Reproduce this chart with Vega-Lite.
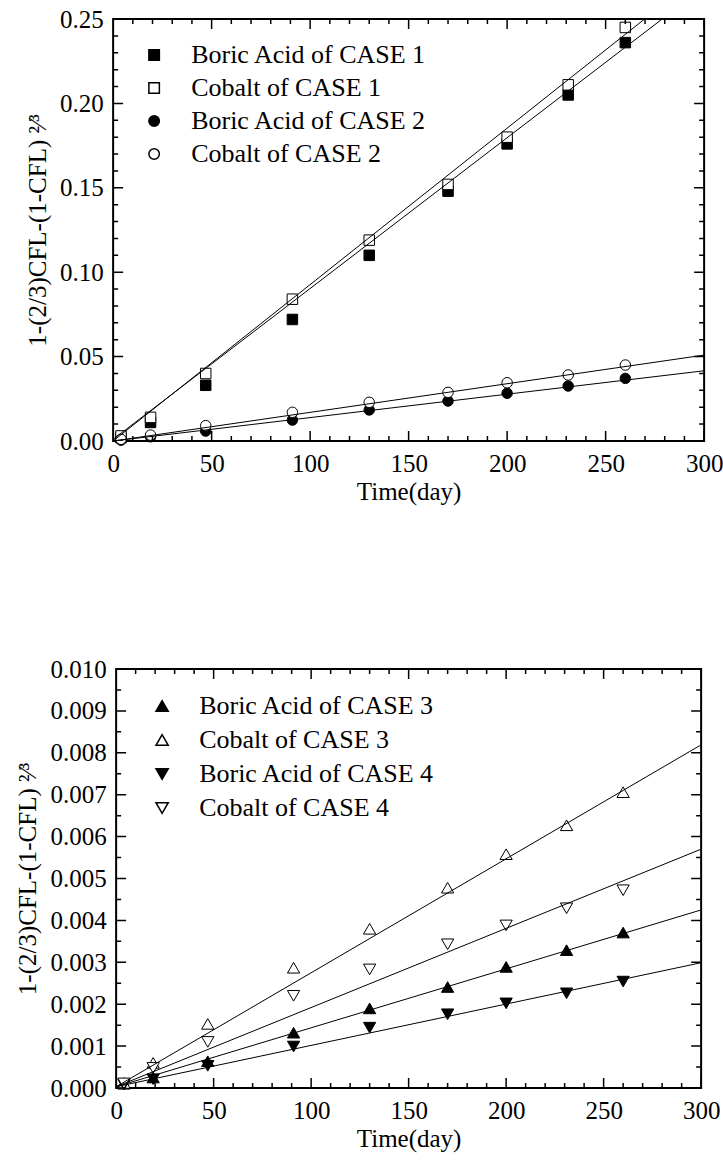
{
  "$schema": "https://vega.github.io/schema/vega-lite/v6.json",
  "padding": {"left": 14, "top": 6, "right": 5, "bottom": 5},
  "config": {
    "font": "Liberation Serif",
    "view": {"stroke": "black", "strokeWidth": 2},
    "axis": {
      "grid": false,
      "ticks": false,
      "domain": false,
      "labelFont": "Liberation Serif",
      "titleFont": "Liberation Serif",
      "labelFontSize": 25,
      "titleFontSize": 25,
      "titleFontWeight": "normal",
      "labelColor": "black",
      "titleColor": "black",
      "labelOverlap": false,
      "labelFlush": false,
      "labelBound": false
    },
    "legend": {"labelFont": "Liberation Serif", "labelColor": "black"}
  },
  "datasets": {
    "xticks": [
      {"t": 0, "kind": "major"}, {"t": 10, "kind": "minor"}, {"t": 20, "kind": "minor"}, {"t": 30, "kind": "minor"}, {"t": 40, "kind": "minor"},
      {"t": 50, "kind": "major"}, {"t": 60, "kind": "minor"}, {"t": 70, "kind": "minor"}, {"t": 80, "kind": "minor"}, {"t": 90, "kind": "minor"},
      {"t": 100, "kind": "major"}, {"t": 110, "kind": "minor"}, {"t": 120, "kind": "minor"}, {"t": 130, "kind": "minor"}, {"t": 140, "kind": "minor"},
      {"t": 150, "kind": "major"}, {"t": 160, "kind": "minor"}, {"t": 170, "kind": "minor"}, {"t": 180, "kind": "minor"}, {"t": 190, "kind": "minor"},
      {"t": 200, "kind": "major"}, {"t": 210, "kind": "minor"}, {"t": 220, "kind": "minor"}, {"t": 230, "kind": "minor"}, {"t": 240, "kind": "minor"},
      {"t": 250, "kind": "major"}, {"t": 260, "kind": "minor"}, {"t": 270, "kind": "minor"}, {"t": 280, "kind": "minor"}, {"t": 290, "kind": "minor"},
      {"t": 300, "kind": "major"}
    ],
    "yticksTop": [
      {"t": 0, "kind": "major"}, {"t": 0.01, "kind": "minor"}, {"t": 0.02, "kind": "minor"}, {"t": 0.03, "kind": "minor"}, {"t": 0.04, "kind": "minor"},
      {"t": 0.05, "kind": "major"}, {"t": 0.06, "kind": "minor"}, {"t": 0.07, "kind": "minor"}, {"t": 0.08, "kind": "minor"}, {"t": 0.09, "kind": "minor"},
      {"t": 0.1, "kind": "major"}, {"t": 0.11, "kind": "minor"}, {"t": 0.12, "kind": "minor"}, {"t": 0.13, "kind": "minor"}, {"t": 0.14, "kind": "minor"},
      {"t": 0.15, "kind": "major"}, {"t": 0.16, "kind": "minor"}, {"t": 0.17, "kind": "minor"}, {"t": 0.18, "kind": "minor"}, {"t": 0.19, "kind": "minor"},
      {"t": 0.2, "kind": "major"}, {"t": 0.21, "kind": "minor"}, {"t": 0.22, "kind": "minor"}, {"t": 0.23, "kind": "minor"}, {"t": 0.24, "kind": "minor"},
      {"t": 0.25, "kind": "major"}
    ],
    "yticksBottom": [
      {"t": 0, "kind": "major"}, {"t": 0.0005, "kind": "minor"}, {"t": 0.001, "kind": "major"}, {"t": 0.0015, "kind": "minor"},
      {"t": 0.002, "kind": "major"}, {"t": 0.0025, "kind": "minor"}, {"t": 0.003, "kind": "major"}, {"t": 0.0035, "kind": "minor"},
      {"t": 0.004, "kind": "major"}, {"t": 0.0045, "kind": "minor"}, {"t": 0.005, "kind": "major"}, {"t": 0.0055, "kind": "minor"},
      {"t": 0.006, "kind": "major"}, {"t": 0.0065, "kind": "minor"}, {"t": 0.007, "kind": "major"}, {"t": 0.0075, "kind": "minor"},
      {"t": 0.008, "kind": "major"}, {"t": 0.0085, "kind": "minor"}, {"t": 0.009, "kind": "major"}, {"t": 0.0095, "kind": "minor"},
      {"t": 0.01, "kind": "major"}
    ]
  },
  "columns": 1,
  "center": true,
  "spacing": 151,
  "resolve": {"scale": {"shape": "independent", "fill": "independent"}},
  "concat": [
    {
      "width": 591,
      "height": 422,
      "layer": [
        {
          "data": {"values": [
            {"day": 4, "value": 0.002, "series": "Boric Acid of CASE 1"},
            {"day": 19, "value": 0.011, "series": "Boric Acid of CASE 1"},
            {"day": 47, "value": 0.033, "series": "Boric Acid of CASE 1"},
            {"day": 91, "value": 0.072, "series": "Boric Acid of CASE 1"},
            {"day": 130, "value": 0.110, "series": "Boric Acid of CASE 1"},
            {"day": 170, "value": 0.148, "series": "Boric Acid of CASE 1"},
            {"day": 200, "value": 0.176, "series": "Boric Acid of CASE 1"},
            {"day": 231, "value": 0.205, "series": "Boric Acid of CASE 1"},
            {"day": 260, "value": 0.236, "series": "Boric Acid of CASE 1"},
            {"day": 4, "value": 0.003, "series": "Cobalt of CASE 1"},
            {"day": 19, "value": 0.014, "series": "Cobalt of CASE 1"},
            {"day": 47, "value": 0.040, "series": "Cobalt of CASE 1"},
            {"day": 91, "value": 0.084, "series": "Cobalt of CASE 1"},
            {"day": 130, "value": 0.119, "series": "Cobalt of CASE 1"},
            {"day": 170, "value": 0.152, "series": "Cobalt of CASE 1"},
            {"day": 200, "value": 0.180, "series": "Cobalt of CASE 1"},
            {"day": 231, "value": 0.211, "series": "Cobalt of CASE 1"},
            {"day": 260, "value": 0.245, "series": "Cobalt of CASE 1"},
            {"day": 4, "value": 0.0005, "series": "Boric Acid of CASE 2"},
            {"day": 19, "value": 0.0025, "series": "Boric Acid of CASE 2"},
            {"day": 47, "value": 0.0059, "series": "Boric Acid of CASE 2"},
            {"day": 91, "value": 0.0124, "series": "Boric Acid of CASE 2"},
            {"day": 130, "value": 0.0184, "series": "Boric Acid of CASE 2"},
            {"day": 170, "value": 0.0237, "series": "Boric Acid of CASE 2"},
            {"day": 200, "value": 0.0283, "series": "Boric Acid of CASE 2"},
            {"day": 231, "value": 0.0326, "series": "Boric Acid of CASE 2"},
            {"day": 260, "value": 0.0371, "series": "Boric Acid of CASE 2"},
            {"day": 4, "value": 0.001, "series": "Cobalt of CASE 2"},
            {"day": 19, "value": 0.0035, "series": "Cobalt of CASE 2"},
            {"day": 47, "value": 0.0091, "series": "Cobalt of CASE 2"},
            {"day": 91, "value": 0.0170, "series": "Cobalt of CASE 2"},
            {"day": 130, "value": 0.0229, "series": "Cobalt of CASE 2"},
            {"day": 170, "value": 0.0288, "series": "Cobalt of CASE 2"},
            {"day": 200, "value": 0.0345, "series": "Cobalt of CASE 2"},
            {"day": 231, "value": 0.0391, "series": "Cobalt of CASE 2"},
            {"day": 260, "value": 0.0450, "series": "Cobalt of CASE 2"}
          ]},
          "mark": {"type": "point", "filled": true, "stroke": "black", "strokeWidth": 1, "size": 110, "opacity": 1},
          "encoding": {
            "x": {
              "field": "day", "type": "quantitative",
              "scale": {"domain": [0, 300], "nice": false, "zero": false},
              "axis": {"orient": "bottom", "title": "Time(day)", "values": [0,50,100,150,200,250,300], "labelPadding": 10, "titlePadding": 3}
            },
            "y": {
              "field": "value", "type": "quantitative",
              "scale": {"domain": [0, 0.25], "nice": false},
              "axis": {"orient": "left", "title": "1-(2/3)CFL-(1-CFL) ²⁄³", "format": ".2f", "values": [0,0.05,0.1,0.15,0.2,0.25], "labelPadding": 10, "titlePadding": 9}
            },
            "shape": {
              "field": "series", "type": "nominal",
              "scale": {"domain": ["Boric Acid of CASE 1", "Cobalt of CASE 1", "Boric Acid of CASE 2", "Cobalt of CASE 2"], "range": ["square", "square", "circle", "circle"]},
              "legend": {"orient": "none", "legendX": 28, "legendY": 23, "title": null, "labelFontSize": 26, "labelFont": "Liberation Serif", "symbolSize": 110, "labelOffset": 24, "rowPadding": 7, "padding": 0, "labelLimit": 400,
                "encode": {"symbols": {"update": {"stroke": {"value": "black"}, "strokeWidth": {"value": 1}}}}}
            },
            "fill": {
              "field": "series", "type": "nominal",
              "scale": {"domain": ["Boric Acid of CASE 1", "Cobalt of CASE 1", "Boric Acid of CASE 2", "Cobalt of CASE 2"], "range": ["black", "white", "black", "white"]},
              "legend": {"orient": "none", "legendX": 28, "legendY": 23, "title": null, "labelFontSize": 26, "labelFont": "Liberation Serif", "symbolSize": 110, "labelOffset": 24, "rowPadding": 7, "padding": 0, "labelLimit": 400,
                "encode": {"symbols": {"update": {"stroke": {"value": "black"}, "strokeWidth": {"value": 1}}}}}
            }
          }
        },
        {
          "data": {"values": [
            {"day": 0, "value": 0.001, "series": "Boric Acid of CASE 1"},
            {"day": 300, "value": 0.269, "series": "Boric Acid of CASE 1"},
            {"day": 0, "value": 0.0, "series": "Cobalt of CASE 1"},
            {"day": 300, "value": 0.278, "series": "Cobalt of CASE 1"},
            {"day": 0, "value": 0.0, "series": "Boric Acid of CASE 2"},
            {"day": 300, "value": 0.0416, "series": "Boric Acid of CASE 2"},
            {"day": 0, "value": 0.0, "series": "Cobalt of CASE 2"},
            {"day": 300, "value": 0.0509, "series": "Cobalt of CASE 2"}
          ]},
          "mark": {"type": "line", "color": "black", "strokeWidth": 1, "clip": true},
          "encoding": {
            "x": {"field": "day", "type": "quantitative"},
            "y": {"field": "value", "type": "quantitative"},
            "detail": {"field": "series", "type": "nominal"}
          }
        },
        {
          "data": {"name": "xticks"},
          "mark": {"type": "tick", "orient": "vertical", "color": "black", "thickness": 1.5, "clip": true, "opacity": 1},
          "encoding": {
            "x": {"field": "t", "type": "quantitative"},
            "y": {"datum": 0},
            "size": {"field": "kind", "type": "nominal", "scale": {"domain": ["major", "minor"], "range": [20, 10]}, "legend": null}
          }
        },
        {
          "data": {"name": "xticks"},
          "mark": {"type": "tick", "orient": "vertical", "color": "black", "thickness": 1.5, "clip": true, "opacity": 1},
          "encoding": {
            "x": {"field": "t", "type": "quantitative"},
            "y": {"datum": 0.25},
            "size": {"field": "kind", "type": "nominal", "scale": {"domain": ["major", "minor"], "range": [20, 10]}, "legend": null}
          }
        },
        {
          "data": {"name": "yticksTop"},
          "mark": {"type": "tick", "orient": "horizontal", "color": "black", "thickness": 1.5, "clip": true, "opacity": 1},
          "encoding": {
            "y": {"field": "t", "type": "quantitative"},
            "x": {"datum": 0},
            "size": {"field": "kind", "type": "nominal", "scale": {"domain": ["major", "minor"], "range": [20, 10]}, "legend": null}
          }
        },
        {
          "data": {"name": "yticksTop"},
          "mark": {"type": "tick", "orient": "horizontal", "color": "black", "thickness": 1.5, "clip": true, "opacity": 1},
          "encoding": {
            "y": {"field": "t", "type": "quantitative"},
            "x": {"datum": 300},
            "size": {"field": "kind", "type": "nominal", "scale": {"domain": ["major", "minor"], "range": [20, 10]}, "legend": null}
          }
        }
      ]
    },
    {
      "width": 585,
      "height": 419,
      "layer": [
        {
          "data": {"values": [
            {"day": 4, "value": 0.0001, "series": "Boric Acid of CASE 3"},
            {"day": 19, "value": 0.00025, "series": "Boric Acid of CASE 3"},
            {"day": 47, "value": 0.00064, "series": "Boric Acid of CASE 3"},
            {"day": 91, "value": 0.00132, "series": "Boric Acid of CASE 3"},
            {"day": 130, "value": 0.0019, "series": "Boric Acid of CASE 3"},
            {"day": 170, "value": 0.00241, "series": "Boric Acid of CASE 3"},
            {"day": 200, "value": 0.00289, "series": "Boric Acid of CASE 3"},
            {"day": 231, "value": 0.00329, "series": "Boric Acid of CASE 3"},
            {"day": 260, "value": 0.00371, "series": "Boric Acid of CASE 3"},
            {"day": 4, "value": 0.00012, "series": "Cobalt of CASE 3"},
            {"day": 19, "value": 0.0006, "series": "Cobalt of CASE 3"},
            {"day": 47, "value": 0.00153, "series": "Cobalt of CASE 3"},
            {"day": 91, "value": 0.00287, "series": "Cobalt of CASE 3"},
            {"day": 130, "value": 0.0038, "series": "Cobalt of CASE 3"},
            {"day": 170, "value": 0.00478, "series": "Cobalt of CASE 3"},
            {"day": 200, "value": 0.00558, "series": "Cobalt of CASE 3"},
            {"day": 231, "value": 0.00627, "series": "Cobalt of CASE 3"},
            {"day": 260, "value": 0.00706, "series": "Cobalt of CASE 3"},
            {"day": 4, "value": 0.00008, "series": "Boric Acid of CASE 4"},
            {"day": 19, "value": 0.00021, "series": "Boric Acid of CASE 4"},
            {"day": 47, "value": 0.00053, "series": "Boric Acid of CASE 4"},
            {"day": 91, "value": 0.00099, "series": "Boric Acid of CASE 4"},
            {"day": 130, "value": 0.00144, "series": "Boric Acid of CASE 4"},
            {"day": 170, "value": 0.00176, "series": "Boric Acid of CASE 4"},
            {"day": 200, "value": 0.00202, "series": "Boric Acid of CASE 4"},
            {"day": 231, "value": 0.00226, "series": "Boric Acid of CASE 4"},
            {"day": 260, "value": 0.00254, "series": "Boric Acid of CASE 4"},
            {"day": 4, "value": 0.00011, "series": "Cobalt of CASE 4"},
            {"day": 19, "value": 0.00048, "series": "Cobalt of CASE 4"},
            {"day": 47, "value": 0.0011, "series": "Cobalt of CASE 4"},
            {"day": 91, "value": 0.0022, "series": "Cobalt of CASE 4"},
            {"day": 130, "value": 0.00283, "series": "Cobalt of CASE 4"},
            {"day": 170, "value": 0.00343, "series": "Cobalt of CASE 4"},
            {"day": 200, "value": 0.00388, "series": "Cobalt of CASE 4"},
            {"day": 231, "value": 0.00429, "series": "Cobalt of CASE 4"},
            {"day": 260, "value": 0.00472, "series": "Cobalt of CASE 4"}
          ]},
          "mark": {"type": "point", "filled": true, "stroke": "black", "strokeWidth": 1, "size": 150, "opacity": 1},
          "encoding": {
            "x": {
              "field": "day", "type": "quantitative",
              "scale": {"domain": [0, 300], "nice": false, "zero": false},
              "axis": {"orient": "bottom", "title": "Time(day)", "values": [0,50,100,150,200,250,300], "labelPadding": 10, "titlePadding": 3}
            },
            "y": {
              "field": "value", "type": "quantitative",
              "scale": {"domain": [0, 0.01], "nice": false},
              "axis": {"orient": "left", "title": "1-(2/3)CFL-(1-CFL) ²⁄³", "format": ".3f", "values": [0,0.001,0.002,0.003,0.004,0.005,0.006,0.007,0.008,0.009,0.01], "labelPadding": 10, "titlePadding": 9}
            },
            "shape": {
              "field": "series", "type": "nominal",
              "scale": {"domain": ["Boric Acid of CASE 3", "Cobalt of CASE 3", "Boric Acid of CASE 4", "Cobalt of CASE 4"], "range": ["triangle-up", "triangle-up", "triangle-down", "triangle-down"]},
              "legend": {"orient": "none", "legendX": 33, "legendY": 24, "title": null, "labelFontSize": 26, "labelFont": "Liberation Serif", "symbolSize": 150, "labelOffset": 24, "rowPadding": 8, "padding": 0, "labelLimit": 400,
                "encode": {"symbols": {"update": {"stroke": {"value": "black"}, "strokeWidth": {"value": 1}}}}}
            },
            "fill": {
              "field": "series", "type": "nominal",
              "scale": {"domain": ["Boric Acid of CASE 3", "Cobalt of CASE 3", "Boric Acid of CASE 4", "Cobalt of CASE 4"], "range": ["black", "white", "black", "white"]},
              "legend": {"orient": "none", "legendX": 33, "legendY": 24, "title": null, "labelFontSize": 26, "labelFont": "Liberation Serif", "symbolSize": 150, "labelOffset": 24, "rowPadding": 8, "padding": 0, "labelLimit": 400,
                "encode": {"symbols": {"update": {"stroke": {"value": "black"}, "strokeWidth": {"value": 1}}}}}
            }
          }
        },
        {
          "data": {"values": [
            {"day": 0, "value": 0.00003, "series": "Boric Acid of CASE 3"},
            {"day": 300, "value": 0.00425, "series": "Boric Acid of CASE 3"},
            {"day": 0, "value": 0.00003, "series": "Cobalt of CASE 3"},
            {"day": 300, "value": 0.00819, "series": "Cobalt of CASE 3"},
            {"day": 0, "value": 0.00003, "series": "Boric Acid of CASE 4"},
            {"day": 300, "value": 0.00299, "series": "Boric Acid of CASE 4"},
            {"day": 0, "value": 0.00003, "series": "Cobalt of CASE 4"},
            {"day": 300, "value": 0.0057, "series": "Cobalt of CASE 4"}
          ]},
          "mark": {"type": "line", "color": "black", "strokeWidth": 1, "clip": true},
          "encoding": {
            "x": {"field": "day", "type": "quantitative"},
            "y": {"field": "value", "type": "quantitative"},
            "detail": {"field": "series", "type": "nominal"}
          }
        },
        {
          "data": {"name": "xticks"},
          "mark": {"type": "tick", "orient": "vertical", "color": "black", "thickness": 1.5, "clip": true, "opacity": 1},
          "encoding": {
            "x": {"field": "t", "type": "quantitative"},
            "y": {"datum": 0},
            "size": {"field": "kind", "type": "nominal", "scale": {"domain": ["major", "minor"], "range": [20, 10]}, "legend": null}
          }
        },
        {
          "data": {"name": "xticks"},
          "mark": {"type": "tick", "orient": "vertical", "color": "black", "thickness": 1.5, "clip": true, "opacity": 1},
          "encoding": {
            "x": {"field": "t", "type": "quantitative"},
            "y": {"datum": 0.01},
            "size": {"field": "kind", "type": "nominal", "scale": {"domain": ["major", "minor"], "range": [20, 10]}, "legend": null}
          }
        },
        {
          "data": {"name": "yticksBottom"},
          "mark": {"type": "tick", "orient": "horizontal", "color": "black", "thickness": 1.5, "clip": true, "opacity": 1},
          "encoding": {
            "y": {"field": "t", "type": "quantitative"},
            "x": {"datum": 0},
            "size": {"field": "kind", "type": "nominal", "scale": {"domain": ["major", "minor"], "range": [20, 10]}, "legend": null}
          }
        },
        {
          "data": {"name": "yticksBottom"},
          "mark": {"type": "tick", "orient": "horizontal", "color": "black", "thickness": 1.5, "clip": true, "opacity": 1},
          "encoding": {
            "y": {"field": "t", "type": "quantitative"},
            "x": {"datum": 300},
            "size": {"field": "kind", "type": "nominal", "scale": {"domain": ["major", "minor"], "range": [20, 10]}, "legend": null}
          }
        }
      ]
    }
  ]
}
